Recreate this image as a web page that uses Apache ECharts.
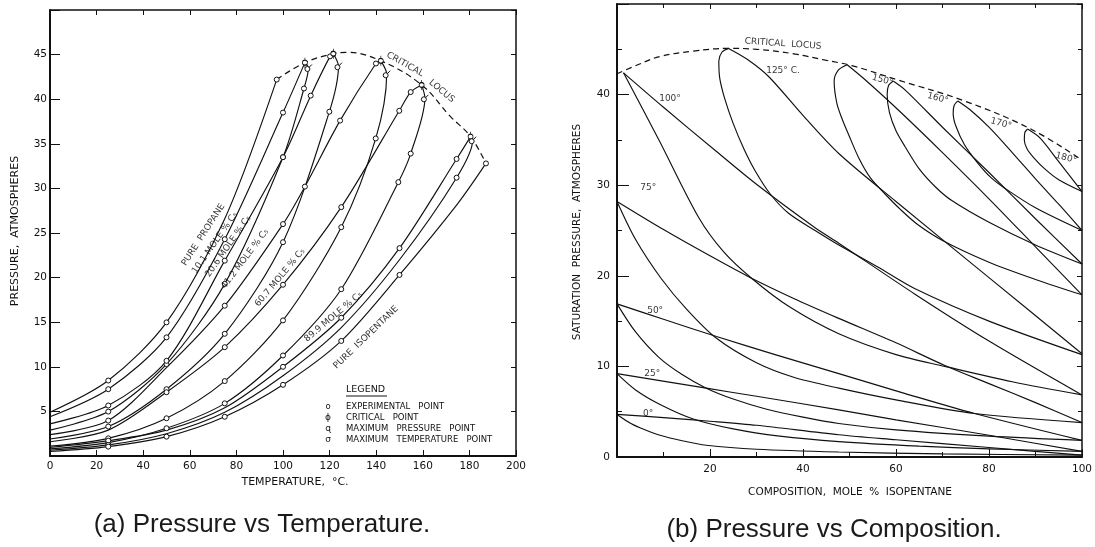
<!DOCTYPE html>
<html><head><meta charset="utf-8">
<script src="https://cdn.jsdelivr.net/npm/echarts@6.0.0/dist/echarts.min.js"></script>
<style>html,body{margin:0;padding:0;background:#fff}#c{width:1095px;height:547px}</style>
</head><body><div id="c"></div>
<script>
// ---------- (a) Pressure vs Temperature : [T degC, P atm, point kind] ----------
// point kind: 0 none, 1 experimental point, 2 critical point, 3 maximum temperature point
const propane  = [[0,4.9,0],[25,8.46,1],[50,14.98,1],[75,26.6,0],[97.3,42.2,1]];
const c10bub   = [[0,4.4,0],[25,7.49,1],[50,13.3,1],[75,24.3,1],[100,38.5,1],[109.4,44.1,2]];
const c10dew   = [[0,2.9,0],[25,4.98,1],[50,10.3,1],[75,19.3,1],[100,33.5,1],[109,41.2,1],[110.9,43.5,3],[109.4,44.1,0]];
const c20bub   = [[0,3.6,0],[25,5.66,1],[50,10.67,1],[75,21.9,1],[100,33.5,1],[111.9,40.4,1],[120.2,44.8,1],[121.6,45.1,2]];
const c20dew   = [[0,1.9,0],[25,3.3,1],[50,7.49,1],[75,13.7,1],[100,23.97,1],[119.9,38.6,1],[123.8,43.7,3],[121.6,45.1,0]];
const c41bub   = [[0,2.4,0],[25,3.97,1],[50,9.9,0],[75,16.85,1],[100,26.0,1],[109.4,30.2,1],[124.5,37.6,1],[139.9,44.0,1],[142,44.3,2]];
const c41dew   = [[0,1.1,0],[25,1.98,1],[50,4.23,1],[75,8.4,1],[100,15.2,1],[125,25.65,1],[139.8,35.6,1],[144.5,42.8,3],[142,44.3,0]];
const c60bub   = [[0,1.6,0],[25,2.9,0],[50,7.15,1],[75,12.2,1],[100,19.2,1],[125,27.9,1],[149.9,38.7,1],[154.8,40.8,1],[159.5,41.6,2]];
const c60dew   = [[0,0.8,0],[25,1.5,1],[50,3.11,1],[75,5.9,1],[100,11.27,1],[125,18.7,1],[149.5,30.7,1],[154.8,33.9,1],[160.9,40.1,3],[159.5,41.6,0]];
const c89bub   = [[0,0.95,0],[25,1.72,1],[50,2.9,0],[75,5.4,0],[100,10.0,1],[125,15.5,1],[150,23.3,1],[174.5,33.3,1],[180.5,35.8,2]];
const c89dew   = [[0,0.65,0],[25,1.24,1],[50,2.5,0],[75,4.9,0],[100,9.0,0],[125,14.4,0],[150,22.0,0],[174.5,31.2,1],[181.4,35.4,3],[180.5,35.8,0]];
const isopent  = [[0,0.5,0],[25,1.05,1],[50,2.17,1],[75,4.4,1],[100,7.98,1],[125,12.9,1],[150,20.3,1],[175,28.3,0],[187.1,32.8,1]];
const critLocusA = [[97.3,42.2],[109.4,44.1],[121.6,45.1],[127.5,45.25],[142,44.3],[159.5,41.6],[171.7,38.1],[180.5,35.8],[187.1,32.8]];
const tempCurves = [propane,c10bub,c10dew,c20bub,c20dew,c41bub,c41dew,c60bub,c60dew,c89bub,c89dew,isopent];
const tempTicksX = [0,20,40,60,80,100,120,140,160,180,200];
const tempTicksY = [5,10,15,20,25,30,35,40,45];

// ---------- (b) Pressure vs Composition : [mole % isopentane, P atm] ----------
const iso0b   = [[0,4.7],[10,4.35],[20,3.95],[30,3.5],[47.7,2.45],[60,1.9],[80,1.05],[100,0.2]];
const iso0d   = [[0,4.7],[3,3.7],[6,3.0],[9.25,2.4],[14,1.8],[19.2,1.3],[30,0.85],[47.7,0.55],[70,0.35],[100,0.2]];
const iso25b  = [[0,9.2],[19.2,7.6],[30,6.7],[47.7,5.2],[60,4.1],[80,2.4],[100,0.62]];
const iso25d  = [[0,9.2],[4,7.4],[9.25,5.8],[16.4,4.2],[25,3.1],[35,2.3],[47.7,1.7],[65,1.2],[80,0.9],[100,0.62]];
const iso50b  = [[0,16.9],[10,15.2],[21.4,13.3],[34,11.3],[47.7,9.2],[62,7.0],[76.9,4.8],[100,1.83]];
const iso50d  = [[0,16.9],[4,13.8],[9,11.0],[14,9.1],[19.2,7.6],[25,6.4],[32,5.3],[40,4.4],[47.7,3.7],[60,3.0],[80,2.3],[100,1.83]];
const iso75b  = [[0,28.2],[10,25.1],[20,22.2],[28.3,19.9],[38,17.5],[47.7,15.3],[60,12.6],[70.5,10.1],[80,8.1],[90,6.0],[100,3.8]];
const iso75d  = [[0,28.2],[4,24.0],[9.5,19.7],[15,16.3],[21.4,13.1],[30,10.4],[38,8.8],[47.7,7.6],[60,6.3],[76.9,4.8],[100,3.8]];
const iso100b = [[1.4,42.4],[10,38.6],[21.2,33.8],[30,30.1],[42.6,25.3],[47.7,23.6],[64,18.0],[80,12.8],[100,6.85]];
const iso100d = [[1.4,42.4],[9.1,34.9],[17.6,26.4],[23,22.6],[29,19.7],[37,16.6],[47.7,13.6],[60,11.3],[70.5,10.0],[85,8.3],[100,6.85]];
const iso125b = [[24,45.1],[28,43.9],[32.6,42.0],[40,37.7],[47.7,33.5],[60,28.2],[80,19.8],[100,11.4]];
const iso125d = [[24,45.1],[22.6,44.7],[21.9,43.7],[22.1,41.8],[23.2,39.5],[25,36.8],[27.3,34.0],[29.7,31.6],[33,29.0],[36.9,26.9],[42.6,25.0],[47.7,23.4],[56,21.0],[64,18.6],[80,15.0],[100,11.3]];
const iso150b = [[49.5,43.3],[53,41.8],[60.5,38.3],[70,33.6],[80,28.5],[90,23.2],[100,17.9]];
const iso150d = [[49.5,43.3],[47.6,42.7],[46.7,41.5],[47.3,39.0],[48.5,37.2],[49.8,35.6],[52,33.0],[54.5,30.8],[57.7,29.0],[61,27.3],[64.8,25.6],[70,23.9],[80,21.5],[90,19.6],[100,17.9]];
const iso160b = [[59.4,41.5],[62,40.5],[70,36.4],[80,31.4],[90,26.3],[100,21.3]];
const iso160d = [[59.4,41.5],[58.4,41.0],[58.1,40.0],[58.6,38.0],[60,36.0],[61.9,34.3],[65,31.8],[68.5,29.8],[72,28.3],[80,25.9],[90,23.4],[100,21.3]];
const iso170b = [[73.3,39.3],[76,38.3],[80,36.4],[85,33.6],[90,30.7],[95,27.9],[100,25.0]];
const iso170d = [[73.3,39.3],[72.5,38.8],[72.3,37.9],[72.9,36.5],[74.7,34.5],[77.5,32.5],[80.5,30.8],[83.3,29.7],[90,27.5],[100,25.0]];
const iso180b = [[88.3,36.2],[91,35.2],[95,32.6],[100,29.3]];
const iso180d = [[88.3,36.2],[87.7,35.8],[87.6,35.0],[88.2,34.0],[89.7,33.0],[92,31.8],[95,30.6],[100,29.3]];
const critLocusB = [[0,42.3],[5,43.4],[9.2,44.2],[16.4,44.8],[24,45.1],[30,45.0],[38,44.5],[44.8,43.8],[50.5,43.2],[60.5,41.6],[74.7,39.3],[89,36.2],[99.6,32.9]];
const compCurves = [iso0b,iso0d,iso25b,iso25d,iso50b,iso50d,iso75b,iso75d,iso100b,iso100d,iso125b,iso125d,iso150b,iso150d,iso160b,iso160d,iso170b,iso170d,iso180b,iso180d];
const compTicksX = [20,40,60,80,100];
const compTicksY = [0,10,20,30,40];

// ---------- text annotations [text, x, y, angle] ----------
const tempNotes = [
  ['PURE  PROPANE',65.8,24.8,57],['10.1 MOLE % C₅',70.8,23.9,55],['20.6 MOLE % C₅',76.5,23.5,55],
  ['41.2 MOLE % C₅',83.7,22.1,53],['60.7 MOLE % C₅',98.7,20.0,50],['89.9 MOLE % C₅',121.6,15.6,40],
  ['PURE  ISOPENTANE',135.6,13.3,44],['CRITICAL',152.4,43.9,-29],['LOCUS',168.1,40.9,-40]
];
const compNotes = [
  ['CRITICAL  LOCUS',35.7,45.6,-4],['125° C.',35.7,42.6,0],['100°',11.4,39.6,0],['75°',6.7,29.7,0],
  ['50°',8.2,16.1,0],['25°',7.6,9.2,0],['0°',6.7,4.8,0],['150°',57.1,41.6,-15],['160°',69,39.6,-15],
  ['170°',82.6,36.8,-15],['180°',96.6,33.0,-15]
];

const INK = '#111';
const FONT = '"DejaVu Sans", sans-serif';
const MARKS = {
  1: {symbol:'circle', symbolSize:5},
  2: {symbol:'path://M0,5A2.5,2.5,0,1,1,5,5A2.5,2.5,0,1,1,0,5ZM2.5,0L2.5,2.5M2.5,7.5L2.5,10', symbolSize:[5,10]},
  3: {symbol:'path://M0,6.5A2.5,2.5,0,1,1,5,6.5A2.5,2.5,0,1,1,0,6.5ZM4.3,4.8L7,2', symbolSize:[7,7]}
};

function axisPair(grid, min, max, interval, ticks, tickLen, minor, pos, labelMargin, lineW) {
  const common = {
    type:'value', gridIndex:grid, min, max, interval,
    splitLine:{show:false}, minorSplitLine:{show:false},
  };
  const a = Object.assign({}, common, {
    position: pos[0],
    axisLine:{show:true, onZero:false, lineStyle:{color:INK, width:lineW[0]}},
    axisTick:{show:true, inside:true, length:tickLen, lineStyle:{color:INK, width:1}},
    minorTick:{show:minor, splitNumber:2, length:5, lineStyle:{color:INK, width:1}},
    axisLabel:{show:true, margin:labelMargin, color:INK, fontFamily:FONT, fontSize:10.5,
      formatter:(v)=> ticks.indexOf(Math.round(v*10)/10) >= 0 ? String(v) : ''}
  });
  const b = Object.assign({}, common, {
    position: pos[1],
    axisLine:{show:true, onZero:false, lineStyle:{color:INK, width:lineW[1]}},
    axisTick:{show:true, inside:true, length:5, lineStyle:{color:INK, width:1}},
    minorTick:{show:minor, splitNumber:2, length:4, lineStyle:{color:INK, width:1}},
    axisLabel:{show:false}
  });
  return [a, b];
}

const [xa0, xa1] = axisPair(0, 0, 200, 20, tempTicksX, 6, false, ['bottom','top'], 5, [2,1.5]);
const [ya0, ya1] = axisPair(0, 0, 50, 5, tempTicksY, 10, false, ['left','right'], 3, [2,1.5]);
const [xb0, xb1] = axisPair(1, 0, 100, 20, compTicksX, 8, true, ['bottom','top'], 7, [2,1.5]);
const [yb0, yb1] = axisPair(1, 0, 50, 10, compTicksY, 12, true, ['left','right'], 7, [2,1.5]);

function curve(pts, xi, yi, marked) {
  return {
    type:'line', xAxisIndex:xi, yAxisIndex:yi, silent:true, animation:false,
    smooth:0.3, symbol:'circle', symbolSize:5, showSymbol:marked, z:3,
    itemStyle:{color:'#fff', borderColor:INK, borderWidth:1},
    lineStyle:{color:INK, width:1.15},
    data: pts.map(p => {
      const m = marked ? MARKS[p[2]] : null;
      return m ? {value:[p[0], p[1]], symbol:m.symbol, symbolSize:m.symbolSize}
               : {value:[p[0], p[1]], symbol:'none'};
    })
  };
}
function dashed(pts, xi, yi) {
  return {
    type:'line', xAxisIndex:xi, yAxisIndex:yi, silent:true, animation:false,
    smooth:0.4, symbol:'none', z:2,
    lineStyle:{color:INK, width:1.2, type:[6,4]},
    data: pts.map(p => [p[0], p[1]])
  };
}
function notes(list, xi, yi, size) {
  return {
    type:'scatter', xAxisIndex:xi, yAxisIndex:yi, silent:true, animation:false, symbolSize:0, z:5,
    data: list.map(n => ({value:[n[1], n[2]], label:{show:true, formatter:n[0], rotate:n[3],
      position:'inside', color:'#000', fontFamily:FONT, fontSize:size, textBorderWidth:0}}))
  };
}

const series = [];
tempCurves.forEach(c => series.push(curve(c, 0, 0, true)));
series.push(dashed(critLocusA, 0, 0));
compCurves.forEach(c => series.push(curve(c, 2, 2, false)));
series.push(dashed(critLocusB, 2, 2));
series.push(notes(tempNotes, 0, 0, 9));
series.push(notes(compNotes, 2, 2, 9));

function txt(x, y, text, size, rot) {
  return {type:'text', x, y, rotation: rot || 0, silent:true,
    style:{text, fill:INK, font: size + 'px ' + FONT, align:'center', verticalAlign:'middle'}};
}
const capFont = '"Liberation Sans", Arial, sans-serif';
function leg(x, y, text, size, align) {
  return {type:'text', x, y, silent:true, style:{text, fill:INK, font: size + 'px ' + FONT, align: align || 'left', verticalAlign:'middle'}};
}
const graphic = [
  txt(15, 231, 'PRESSURE,  ATMOSPHERES', 11, Math.PI/2),
  txt(295, 482, 'TEMPERATURE,  °C.', 11, 0),
  txt(577, 232, 'SATURATION  PRESSURE,  ATMOSPHERES', 10.5, Math.PI/2),
  txt(850, 492, 'COMPOSITION,  MOLE  %  ISOPENTANE', 10.5, 0),
  {type:'text', x:262, y:525, silent:true, style:{text:'(a) Pressure vs Temperature.', fill:'#1a1a1a', font:'26px ' + capFont, align:'center', verticalAlign:'middle'}},
  {type:'text', x:834, y:530, silent:true, style:{text:'(b) Pressure vs Composition.', fill:'#1a1a1a', font:'26px ' + capFont, align:'center', verticalAlign:'middle'}},
  leg(346, 390, 'LEGEND', 9.5),
  {type:'line', silent:true, shape:{x1:346, y1:396, x2:387, y2:396}, style:{stroke:INK, lineWidth:1}},
  leg(328, 406.5, 'o', 8.5, 'center'),
  leg(328, 417.5, 'ϕ', 9, 'center'),
  leg(328, 429, 'ɋ', 9, 'center'),
  leg(328, 440, 'σ', 9, 'center'),
  leg(346, 406.5, 'EXPERIMENTAL   POINT', 8.5),
  leg(346, 417.5, 'CRITICAL   POINT', 8.5),
  leg(346, 429, 'MAXIMUM   PRESSURE   POINT', 8.5),
  leg(346, 440, 'MAXIMUM   TEMPERATURE   POINT', 8.5)
];

const chart = echarts.init(document.getElementById('c'), null, {renderer:'canvas'});
chart.setOption({
  animation:false,
  backgroundColor:'#fff',
  grid:[
    {left:50, top:10, width:466, height:446},
    {left:617, top:4, width:468, height:453}
  ],
  xAxis:[xa0, xa1, xb0, xb1],
  yAxis:[ya0, ya1, yb0, yb1],
  series,
  graphic
});
</script></body></html>
